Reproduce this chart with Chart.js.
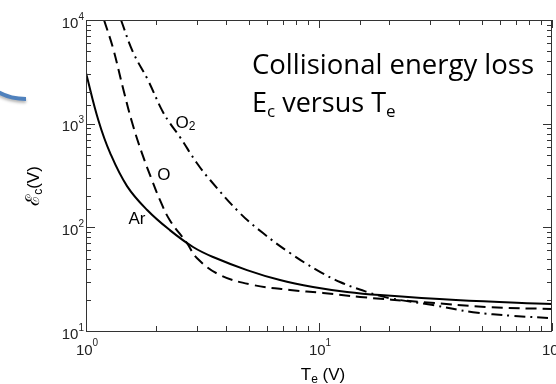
<!DOCTYPE html>
<html>
<head>
<meta charset="utf-8">
<script src="https://cdn.jsdelivr.net/npm/chart.js@4.4.1/dist/chart.umd.min.js"></script>
<style>
  html, body { margin: 0; padding: 0; background: #fff; overflow: hidden; }
  #wrap { position: relative; width: 556px; height: 384px; }
</style>
</head>
<body>
<div id="wrap"><canvas id="ecChart"></canvas></div>
<script>
// Te (V) vs collisional energy loss Ec (V)
const arTe = [1.0, 1.13, 1.27, 1.5, 1.83, 2.29, 2.88, 3.51, 4.91, 6.8, 9.42, 13.2, 18.3, 38.7, 100];
const arEc = [3080, 1080, 520, 250, 147, 94, 64.6, 51.7, 38.7, 31.0, 26.6, 23.8, 22.2, 19.9, 18.2];

const oTe = [1.195, 1.306, 1.442, 1.575, 1.738, 1.919, 2.078, 2.29, 2.71, 2.99, 3.76, 5.21, 7.51, 10.4, 15.0, 27.9, 53.7, 100];
const oEc = [10000, 5360, 2200, 1036, 520, 286, 183, 117, 70.6, 50.6, 34.7, 27.8, 24.9, 23.3, 21.3, 19.0, 17.0, 16.3];

const o2Te = [1.413, 1.591, 1.845, 2.118, 2.29, 2.53, 2.99, 3.41, 4.58, 5.75, 7.51, 9.8, 12.3, 16.1, 20.0, 30.8, 45.8, 68.0, 100];
const o2Ec = [10000, 4900, 2630, 1350, 1013, 743, 417, 286, 137, 88, 56.5, 38.7, 29.7, 23.8, 20.8, 17.8, 15.2, 14.0, 13.3];

// decade tick labels: base "10" with these exponents
const xTickExp = ["0", "1", "2"];       // 1, 10, 100
const yTickExp = ["1", "2", "3", "4"];  // 10 .. 10000

const toPoints = (xs, ys) => xs.map((v, i) => ({ x: v, y: ys[i] }));
const isDecade = v => Math.abs(Math.log10(v) - Math.round(Math.log10(v))) < 1e-9;

// draws a list of text runs (for sub/superscripts), left to right
function drawRuns(ctx, x, y, runs, family) {
  let cx = x;
  runs.forEach(r => {
    ctx.font = r.size + "px " + family;
    ctx.fillText(r.t, cx, y + (r.dy || 0));
    cx += ctx.measureText(r.t).width;
  });
}
function runsWidth(ctx, runs, family) {
  let w = 0;
  runs.forEach(r => {
    ctx.font = r.size + "px " + family;
    w += ctx.measureText(r.t).width;
  });
  return w;
}

const helv = '"Liberation Sans", Arial, sans-serif';

const figurePlugin = {
  id: "figure",
  beforeDraw(chart) {
    // leftover blue stroke from the slide
    const ctx = chart.ctx;
    ctx.save();
    ctx.shadowColor = "rgba(0,0,0,0.3)";
    ctx.shadowBlur = 3;
    ctx.shadowOffsetY = 2;
    ctx.strokeStyle = "#4f81bd";
    ctx.lineWidth = 4;
    ctx.beginPath();
    ctx.moveTo(-2, 92);
    ctx.quadraticCurveTo(10, 99, 26, 99);
    ctx.stroke();
    ctx.restore();
  },
  afterDraw(chart) {
    const { ctx, chartArea: a, scales: { x, y } } = chart;
    ctx.save();
    ctx.strokeStyle = "#333";
    ctx.lineWidth = 1;
    ctx.strokeRect(a.left + 0.5, a.top + 0.5, a.right - a.left - 1, a.bottom - a.top);

    // inward tick marks on all four sides
    ctx.beginPath();
    x.ticks.forEach(t => {
      const px = Math.round(x.getPixelForValue(t.value)) + 0.5;
      const len = isDecade(t.value) ? 8 : 5;
      ctx.moveTo(px, a.bottom); ctx.lineTo(px, a.bottom - len);
      ctx.moveTo(px, a.top); ctx.lineTo(px, a.top + len);
    });
    y.ticks.forEach(t => {
      const py = Math.round(y.getPixelForValue(t.value)) + 0.5;
      const len = isDecade(t.value) ? 9 : 5;
      ctx.moveTo(a.left, py); ctx.lineTo(a.left + len, py);
      ctx.moveTo(a.right, py); ctx.lineTo(a.right - len, py);
    });
    ctx.stroke();

    // decade tick labels 10^n
    ctx.fillStyle = "#222";
    ctx.textAlign = "left";
    ctx.textBaseline = "alphabetic";
    x.ticks.filter(t => isDecade(t.value)).forEach(t => {
      const runs = [{ t: "10", size: 15 }, { t: xTickExp[Math.round(Math.log10(t.value))], size: 10, dy: -9 }];
      const px = x.getPixelForValue(t.value);
      drawRuns(ctx, px - runsWidth(ctx, runs, helv) / 2 + 1, a.bottom + 24, runs, helv);
    });
    y.ticks.filter(t => isDecade(t.value)).forEach(t => {
      const runs = [{ t: "10", size: 15 }, { t: yTickExp[Math.round(Math.log10(t.value)) - 1], size: 10, dy: -8 }];
      const py = y.getPixelForValue(t.value);
      drawRuns(ctx, a.left - 2 - runsWidth(ctx, runs, helv), py + 7.5, runs, helv);
    });

    // curve labels
    ctx.fillStyle = "#000";
    ctx.textBaseline = "middle";
    ctx.textAlign = "center";
    ctx.font = "17px " + helv;
    ctx.fillText("Ar", x.getPixelForValue(1.655), y.getPixelForValue(120));
    ctx.fillText("O", x.getPixelForValue(2.16), y.getPixelForValue(319));
    ctx.textAlign = "left";
    const o2x = x.getPixelForValue(2.57) - 6, o2y = y.getPixelForValue(1013);
    drawRuns(ctx, o2x, o2y, [{ t: "O", size: 17 }, { t: "2", size: 12, dy: 4 }], helv);

    // axis titles
    ctx.textBaseline = "alphabetic";
    const xt = [{ t: "T", size: 17 }, { t: "e", size: 12, dy: 3 }, { t: " (V)", size: 17 }];
    drawRuns(ctx, 323 - runsWidth(ctx, xt, helv) / 2, 380, xt, helv);

    const yt = [{ t: "\u2130", size: 19 }, { t: "c", size: 12, dy: 3 }, { t: "(V)", size: 17 }];
    ctx.save();
    ctx.translate(39, 186);
    ctx.rotate(-Math.PI / 2);
    drawRuns(ctx, -runsWidth(ctx, yt, helv) / 2, 0, yt, helv);
    ctx.restore();

    // slide title
    const cal = '"Open Sans", sans-serif';
    drawRuns(ctx, 252, 74, [{ t: "Collisional energy loss", size: 27.5 }], cal);
    drawRuns(ctx, 252, 112, [
      { t: "E", size: 27 }, { t: "c", size: 17, dy: 5 },
      { t: " versus T", size: 27 }, { t: "e", size: 17, dy: 5 }
    ], cal);
    ctx.restore();
  }
};

new Chart(document.getElementById("ecChart"), {
  type: "line",
  data: {
    datasets: [
      {
        label: "Ar",
        data: toPoints(arTe, arEc),
        borderColor: "#000",
        borderWidth: 2,
        pointRadius: 0,
        tension: 0.4
      },
      {
        label: "O",
        data: toPoints(oTe, oEc),
        borderColor: "#000",
        borderWidth: 2,
        borderDash: [11, 6],
        pointRadius: 0,
        tension: 0.4
      },
      {
        label: "O2",
        data: toPoints(o2Te, o2Ec),
        borderColor: "#000",
        borderWidth: 2,
        borderDash: [11, 5, 2, 5],
        pointRadius: 0,
        tension: 0.4
      }
    ]
  },
  options: {
    responsive: true,
    maintainAspectRatio: false,
    animation: false,
    layout: { padding: { top: 20, right: 4, bottom: 0, left: 0 } },
    plugins: {
      legend: { display: false },
      tooltip: { enabled: false }
    },
    scales: {
      x: {
        type: "logarithmic",
        min: 1,
        max: 100,
        grid: { display: false, drawTicks: false },
        border: { display: false },
        ticks: { display: false, autoSkip: false },
        afterFit: s => {
          s.height = 53;
          s.paddingLeft = 0;
          s.paddingRight = 0;
        }
      },
      y: {
        type: "logarithmic",
        min: 10,
        max: 10000,
        grid: { display: false, drawTicks: false },
        border: { display: false },
        ticks: { display: false, autoSkip: false },
        afterFit: s => {
          s.width = 86;
          s.paddingTop = 0;
          s.paddingBottom = 0;
        }
      }
    }
  },
  plugins: [figurePlugin]
});
</script>
</body>
</html>
